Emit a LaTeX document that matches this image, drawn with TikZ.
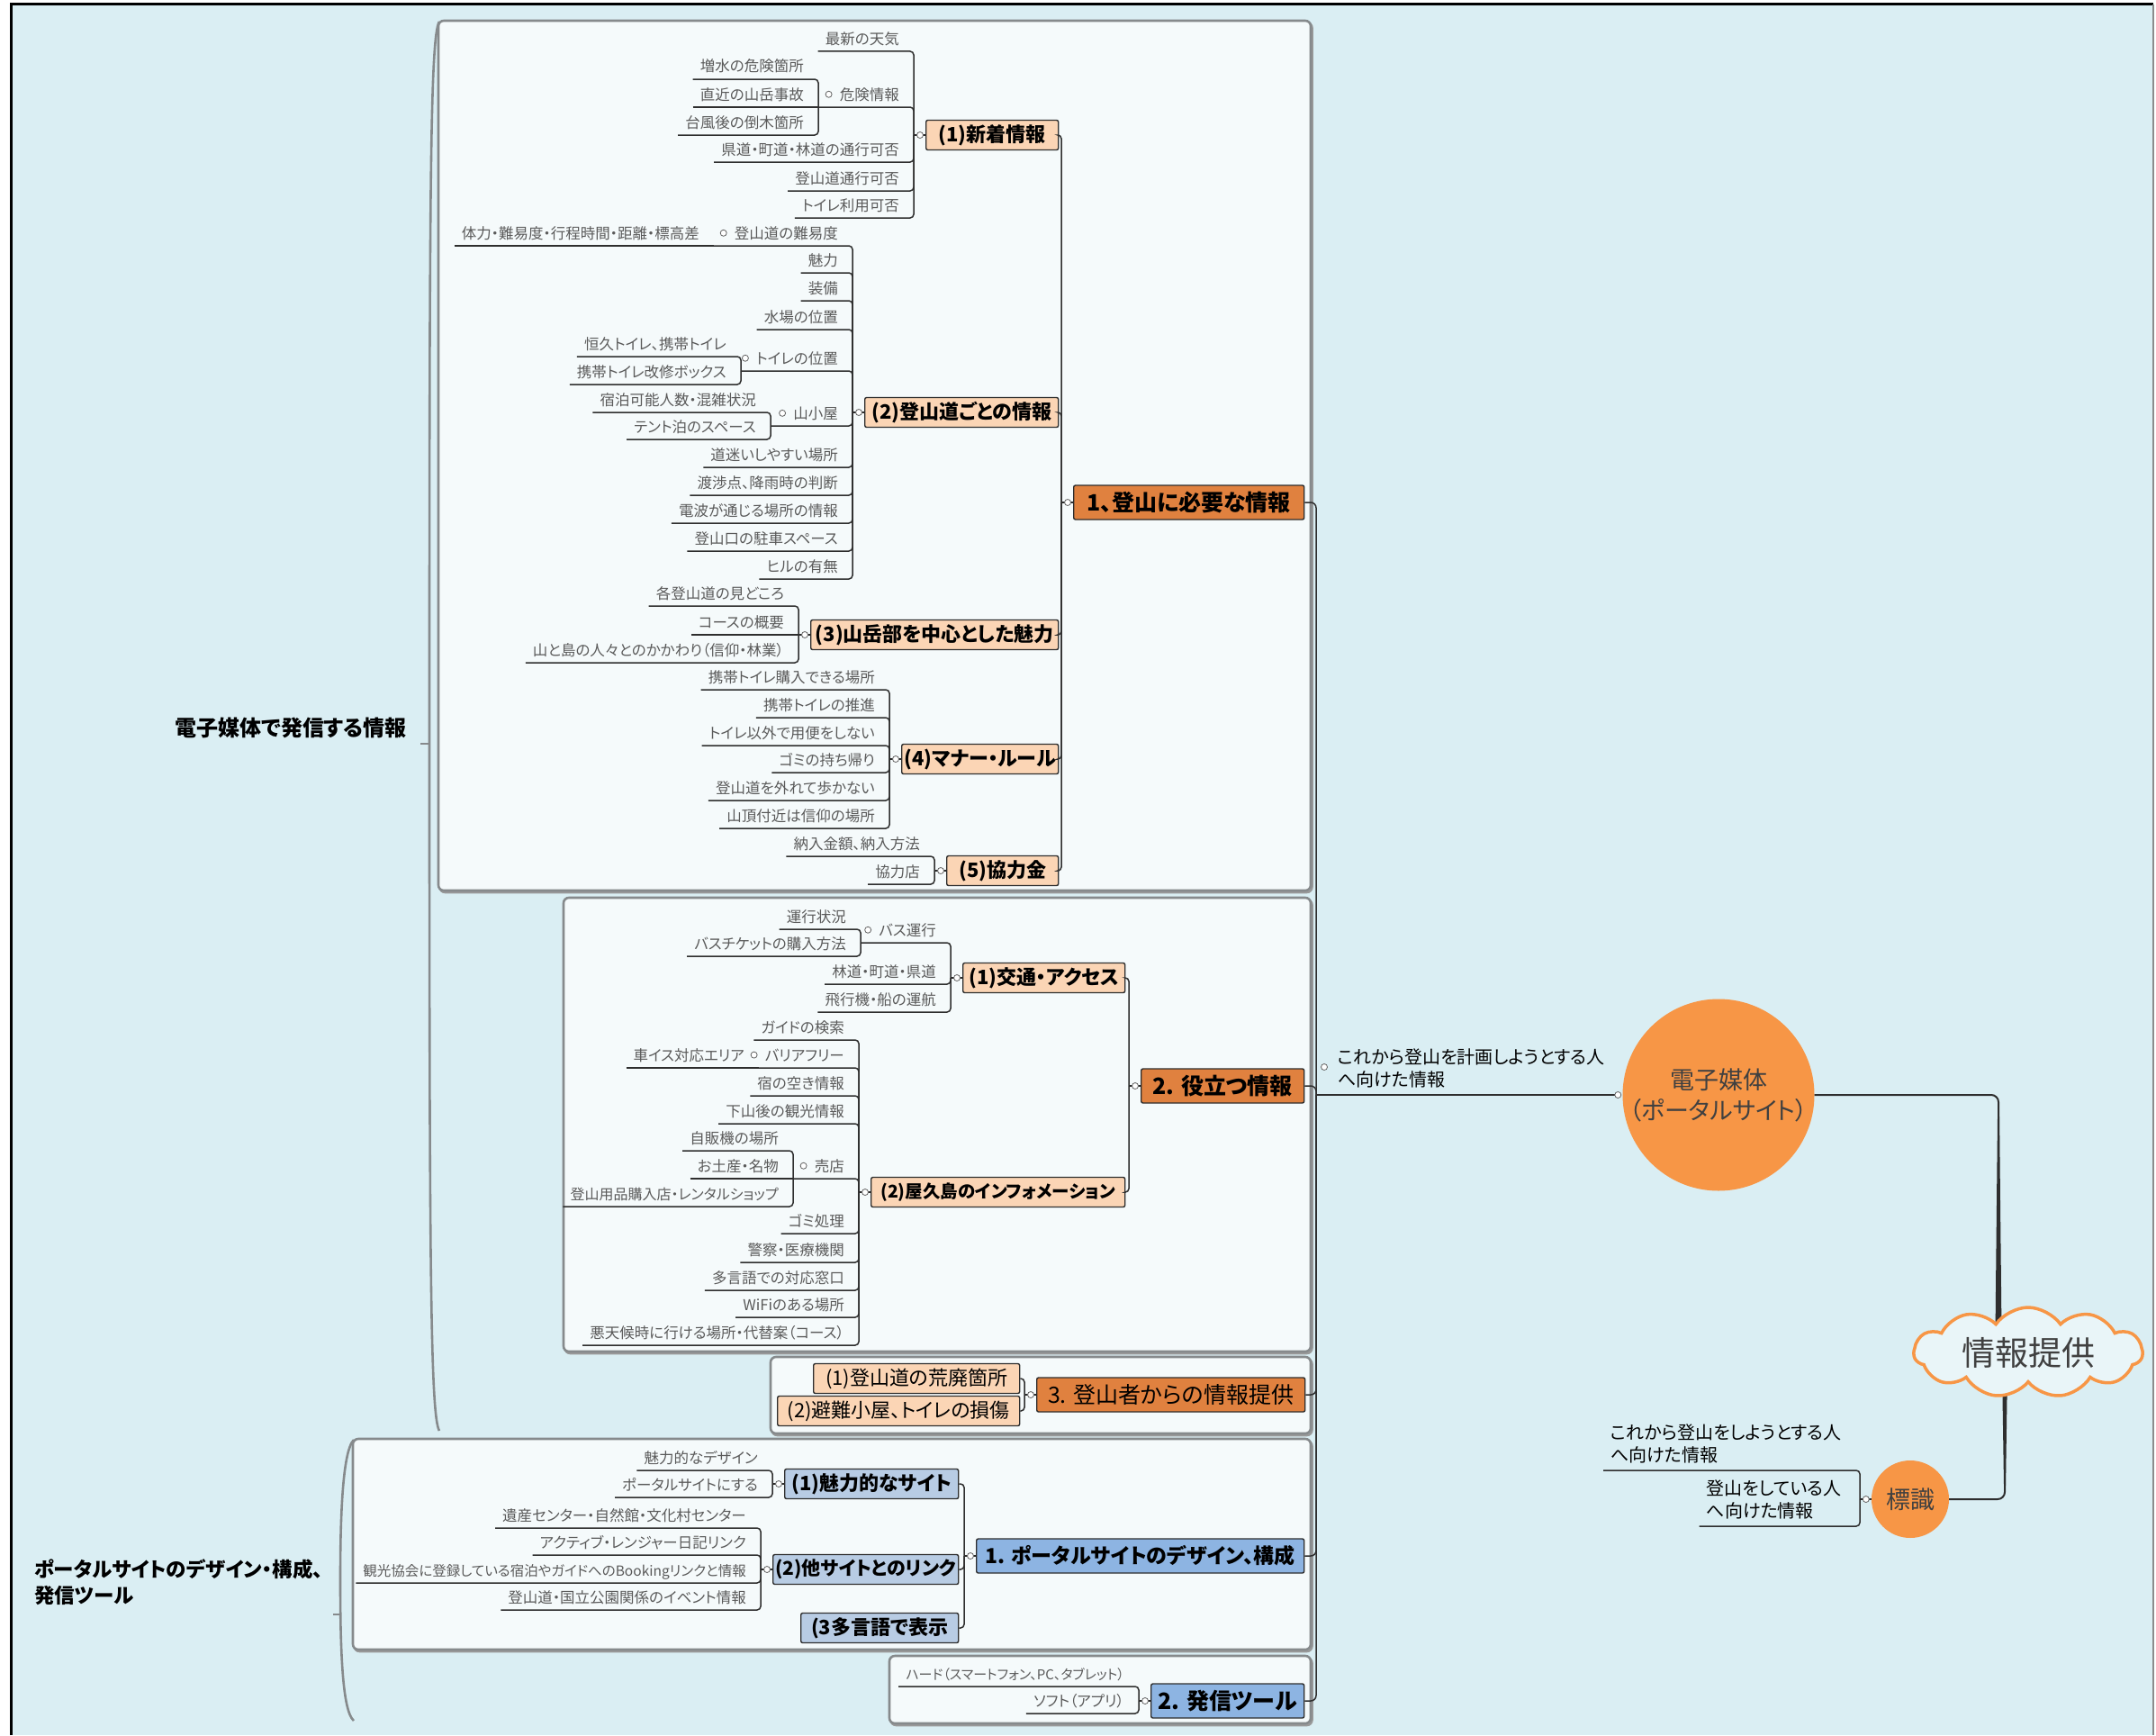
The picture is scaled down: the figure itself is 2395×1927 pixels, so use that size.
\documentclass[tikz,border=0pt]{standalone}
\usepackage{fontspec}
\setmainfont{Noto Sans CJK JP}[RawFeature=+palt]
\usetikzlibrary{shapes.symbols,shapes.geometric,calc}
\definecolor{bgblue}{HTML}{DAEEF3}
\definecolor{panelfill}{HTML}{F5FAFB}
\definecolor{panelline}{HTML}{868A8C}
\definecolor{lone}{HTML}{E0813F}
\definecolor{ltwo}{HTML}{FBD5B5}
\definecolor{bone}{HTML}{8DB4E2}
\definecolor{btwo}{HTML}{B8CCE4}
\definecolor{circ}{HTML}{F79646}
\definecolor{leafgray}{HTML}{5A5A5A}
\definecolor{lineclr}{HTML}{2E2E2E}
\definecolor{darktext}{HTML}{404040}
\tikzset{
 conn/.style={draw=lineclr, line width=1.5, rounded corners=4},
 leaf/.style={font=\fontsize{16.5}{19}\selectfont, text=leafgray, inner xsep=8, inner ysep=1},
 mk/.style={circle, draw=lineclr!75, fill=white, line width=0.8, inner sep=0, minimum size=7},
 boxtwo/.style={draw=lineclr, line width=1.4, rounded corners=2, fill=ltwo, font=\fontsize{22}{24}\selectfont\bfseries, minimum height=33, inner sep=0, anchor=west},
 boxone/.style={draw=lineclr, line width=1.4, rounded corners=2, fill=lone, font=\fontsize{25}{28}\selectfont\bfseries, minimum height=38, inner sep=0, anchor=west},
 panel/.style={draw=panelline, line width=2.6, fill=panelfill, rounded corners=6},
 pshadow/.style={draw=black!40, line width=2.6, rounded corners=6},
 lbl/.style={font=\fontsize{20}{25}\selectfont, text=black, align=left, inner xsep=8, inner ysep=2},
 sumlbl/.style={font=\fontsize{24}{29}\selectfont\bfseries, text=black, align=left, inner xsep=6},
 brace/.style={draw=panelline, line width=2.6},
 bigcirc/.style={circle, fill=circ, inner sep=0, text=darktext, align=center},
}
% leaf: name, bracket x, underline y, parent junction, text
\newcommand\Lf[5]{%
 \node[leaf, anchor=base east] (#1) at (#2-8,#3-8) {#5};
 \coordinate (#1u) at (#2,#3);
 \draw[conn] (#1.west |- #1u) -- (#1u) -- (#4);}
% leaf on the junction line
\newcommand\LfS[5]{%
 \node[leaf, anchor=base east] (#1) at (#2-8,#3-8) {#5};
 \draw[conn] (#1.west |- #4) -- (#4);}
% sub-parent: name, bracket x, underline y, parent junction, child bracket x, text
\newcommand\Sp[6]{%
 \node[leaf, anchor=base east] (#1) at (#2-8,#3-8) {#6};
 \coordinate (#1u) at (#2,#3);
 \coordinate (#1j) at (#5,#3);
 \draw[conn] (#1j) -- (#1u) -- (#4);
 \node[mk] at ([xshift=-4]#1.west) {};}
% box junction + marker
\newcommand\Bj[1]{%
 \coordinate (#1j) at ([xshift=-13]#1.west);
 \draw[conn] (#1j) -- (#1.west);
 \node[mk] at ([xshift=-6]#1.west) {};}
\newcommand\Pnl[4]{%
 \draw[pshadow] (#1+1.5,#2+2) rectangle (#3+1.5,#4+2);
 \draw[panel] (#1,#2) rectangle (#3,#4);}

\begin{document}
\begin{tikzpicture}[x=1pt,y=-1pt]
\useasboundingbox (0,0) rectangle (2395,1927);
\fill[white] (0,0) rectangle (2395,1927);
\fill[bgblue] (12,5) rectangle (2392,1927);
\draw[black, line width=3] (12,1927) -- (12,5) -- (2392,5);
\draw[black!45, line width=1.5] (2392,5) -- (2392,1927);

% panels
\Pnl{487}{23}{1456}{989}
\Pnl{626}{997}{1456}{1501}
\Pnl{856}{1507}{1456}{1592}
\Pnl{392}{1598}{1456}{1832}
\Pnl{988}{1839}{1456}{1914}

% summary braces and labels
\draw[brace] (488,24) .. controls (478,40) and (477,200) .. (477,806) .. controls (477,1400) and (478,1572) .. (488,1589);
\coordinate (t1) at (477,826);
\draw[brace, line width=1.5] (t1) -- ++(-10,0);
\node[sumlbl, anchor=east] (sum1) at (458,808) {電子媒体で発信する情報};
\draw[brace] (393,1599) .. controls (380,1612) and (378,1690) .. (378,1755) .. controls (378,1830) and (380,1900) .. (393,1911);
\coordinate (t2) at (378,1793);
\draw[brace, line width=1.5] (t2) -- ++(-8,0);
\node[sumlbl, anchor=west, font=\fontsize{22.5}{29}\selectfont\bfseries] (sum2) at (32,1757) {ポータルサイトのデザイン・構成、\\発信ツール};

% root structure
\node[bigcirc, minimum size=213, font=\fontsize{27}{34}\selectfont] (dm) at (1909,1216) {電子媒体\\（ポータルサイト）};
\node[bigcirc, minimum size=86, font=\fontsize{27}{30}\selectfont] (sk) at (2122,1665) {標識};
\coordinate (rj1) at (2220,1216);
\coordinate (rj2) at (2227,1665);
\coordinate (rc) at (2253,1502);
\draw[lineclr, line width=2, rounded corners=8] (dm.east) -- (rj1) -- (rj1 |- rc);
\fill[lineclr] (2219,1240) -- (2221,1240) -- (2223.5,1480) -- (2216.5,1480) -- cycle;
\draw[lineclr, line width=2, rounded corners=8] (rj2 |- rc) -- (rj2) -- (sk.east);
\fill[lineclr] (2224,1520) -- (2230,1520) -- (2228,1650) -- (2226,1650) -- cycle;
\node[cloud, cloud puffs=11, cloud puff arc=110, draw=circ, line width=3.5, fill=bgblue!60!white, minimum width=254, minimum height=100, cloud ignores aspect, inner sep=0, font=\fontsize{37}{40}\selectfont, text=darktext] (root) at (rc) {情報提供};

% label of the electronic medium
\coordinate (mj) at (1462,1216);
\node[lbl, anchor=south west] (lab) at (1478,1210) {これから登山を計画しようとする人\\へ向けた情報};
\draw[conn] (mj) -- ([xshift=-5]dm.west);
\node[mk] at ([xshift=-5]dm.west) {};
\node[mk] at (1471,1185) {};

% sign children
\coordinate (skj) at (2066,1665);
\draw[conn] (skj) -- (sk.west);
\node[mk] at ([xshift=-6]sk.west) {};
\node[lbl, anchor=south east] (s1) at (2054,1627) {これから登山をしようとする人\\へ向けた情報};
\coordinate (s1u) at (2066,1633);
\draw[conn] (s1.south west |- s1u) -- (s1u) -- (skj);
\node[lbl, anchor=south east] (s2) at (2054,1689) {登山をしている人\\へ向けた情報};
\coordinate (s2u) at (2066,1695);
\draw[conn] (s2.south west |- s2u) -- (s2u) -- (skj);

% ---------------- Panel A
\node[boxone, minimum width=256] (L1a) at (1192,558) {1、登山に必要な情報};
\node[boxtwo, minimum width=147] (B1) at (1028,150) {(1)新着情報};
\node[boxtwo, minimum width=215] (B2) at (960,458) {(2)登山道ごとの情報};
\node[boxtwo, minimum width=275] (B3) at (900,705) {(3)山岳部を中心とした魅力};
\node[boxtwo, minimum width=174] (B4) at (1001,843) {(4)マナー・ルール};
\node[boxtwo, minimum width=124] (B5) at (1051,967) {(5)協力金};
\Bj{L1a}
\foreach \b in {B1,B2,B3,B4,B5} {\draw[conn] (\b.east) -- (\b.east -| L1aj) -- (L1aj);}
\Bj{B1}\Bj{B2}\Bj{B3}\Bj{B4}\Bj{B5}

\Lf{a1}{1015}{57}{B1j}{最新の天気}
\Sp{a2}{1015}{119}{B1j}{909}{危険情報}
\Lf{a21}{909}{88}{a2j}{増水の危険箇所}
\LfS{a22}{909}{119}{a2j}{直近の山岳事故}
\Lf{a23}{909}{150}{a2j}{台風後の倒木箇所}
\Lf{a3}{1015}{180}{B1j}{県道・町道・林道の通行可否}
\Lf{a4}{1015}{212}{B1j}{登山道通行可否}
\Lf{a5}{1015}{242}{B1j}{トイレ利用可否}

\Sp{b1}{947}{273}{B2j}{793}{登山道の難易度}
\LfS{b1a}{793}{273}{b1j}{体力・難易度・行程時間・距離・標高差}
\Lf{b2}{947}{303}{B2j}{魅力}
\Lf{b3}{947}{334}{B2j}{装備}
\Lf{b4}{947}{366}{B2j}{水場の位置}
\Sp{b5}{947}{412}{B2j}{823}{トイレの位置}
\Lf{b5a}{823}{396}{b5j}{恒久トイレ、携帯トイレ}
\Lf{b5b}{823}{427}{b5j}{携帯トイレ改修ボックス}
\Sp{b6}{947}{473}{B2j}{856}{山小屋}
\Lf{b6a}{856}{458}{b6j}{宿泊可能人数・混雑状況}
\Lf{b6b}{856}{488}{b6j}{テント泊のスペース}
\Lf{b7}{947}{519}{B2j}{道迷いしやすい場所}
\Lf{b8}{947}{550}{B2j}{渡渉点、降雨時の判断}
\Lf{b9}{947}{581}{B2j}{電波が通じる場所の情報}
\Lf{b10}{947}{612}{B2j}{登山口の駐車スペース}
\Lf{b11}{947}{643}{B2j}{ヒルの有無}

\Lf{c1}{887}{673}{B3j}{各登山道の見どころ}
\LfS{c2}{887}{705}{B3j}{コースの概要}
\Lf{c3}{887}{736}{B3j}{山と島の人々とのかかわり（信仰・林業）}

\Lf{d1}{988}{766}{B4j}{携帯トイレ購入できる場所}
\Lf{d2}{988}{797}{B4j}{携帯トイレの推進}
\Lf{d3}{988}{828}{B4j}{トイレ以外で用便をしない}
\Lf{d4}{988}{858}{B4j}{ゴミの持ち帰り}
\Lf{d5}{988}{889}{B4j}{登山道を外れて歩かない}
\Lf{d6}{988}{920}{B4j}{山頂付近は信仰の場所}

\Lf{e1}{1038}{951}{B5j}{納入金額、納入方法}
\Lf{e2}{1038}{982}{B5j}{協力店}

% ---------------- Panel B
\node[boxone, minimum width=181] (L1b) at (1267,1206) {2. 役立つ情報};
\node[boxtwo, minimum width=180] (C1) at (1069,1086) {(1)交通・アクセス};
\node[boxtwo, minimum width=282, font=\fontsize{19.5}{22}\selectfont\bfseries] (C2) at (967,1324) {(2)屋久島のインフォメーション};
\Bj{L1b}
\foreach \b in {C1,C2} {\draw[conn] (\b.east) -- (\b.east -| L1bj) -- (L1bj);}
\Bj{C1}\Bj{C2}

\Sp{f1}{1056}{1047}{C1j}{956}{バス運行}
\Lf{f1a}{956}{1032}{f1j}{運行状況}
\Lf{f1b}{956}{1062}{f1j}{バスチケットの購入方法}
\Lf{f2}{1056}{1093}{C1j}{林道・町道・県道}
\Lf{f3}{1056}{1124}{C1j}{飛行機・船の運航}

\Lf{g1}{954}{1155}{C2j}{ガイドの検索}
\Sp{g2}{954}{1186}{C2j}{843}{バリアフリー}
\LfS{g2a}{843}{1186}{g2j}{車イス対応エリア}
\Lf{g3}{954}{1217}{C2j}{宿の空き情報}
\Lf{g4}{954}{1248}{C2j}{下山後の観光情報}
\Sp{g5}{954}{1309}{C2j}{881}{売店}
\Lf{g5a}{881}{1278}{g5j}{自販機の場所}
\LfS{g5b}{881}{1309}{g5j}{お土産・名物}
\Lf{g5c}{881}{1340}{g5j}{\fontsize{16}{19}\selectfont 登山用品購入店・レンタルショップ}
\Lf{g6}{954}{1370}{C2j}{ゴミ処理}
\Lf{g7}{954}{1402}{C2j}{警察・医療機関}
\Lf{g8}{954}{1433}{C2j}{多言語での対応窓口}
\Lf{g9}{954}{1463}{C2j}{WiFiのある場所}
\Lf{g10}{954}{1494}{C2j}{悪天候時に行ける場所・代替案（コース）}

% ---------------- Panel C
\node[boxone, font=\fontsize{25}{28}\selectfont, minimum width=298] (L1c) at (1151,1549) {3. 登山者からの情報提供};
\node[boxtwo, font=\fontsize{22}{24}\selectfont, minimum width=229] (H1) at (903,1531) {(1)登山道の荒廃箇所};
\node[boxtwo, font=\fontsize{22}{24}\selectfont, minimum width=269] (H2) at (863,1567) {(2)避難小屋、トイレの損傷};
\Bj{L1c}
\foreach \b in {H1,H2} {\draw[conn] (\b.east) -- (\b.east -| L1cj) -- (L1cj);}

% ---------------- Panel D
\node[boxone, fill=bone, minimum width=364, font=\fontsize{23}{26}\selectfont\bfseries] (L1d) at (1084,1728) {1. ポータルサイトのデザイン、構成};
\node[boxtwo, fill=btwo, minimum width=193] (D1) at (871,1648) {(1)魅力的なサイト};
\node[boxtwo, fill=btwo, minimum width=206, font=\fontsize{21}{24}\selectfont\bfseries] (D2) at (858,1743) {(2)他サイトとのリンク};
\node[boxtwo, fill=btwo, minimum width=175] (D3) at (889,1808) {(3多言語で表示};
\Bj{L1d}
\foreach \b in {D1,D2,D3} {\draw[conn] (\b.east) -- (\b.east -| L1dj) -- (L1dj);}
\Bj{D1}\Bj{D2}
\Lf{h1}{858}{1633}{D1j}{魅力的なデザイン}
\Lf{h2}{858}{1663}{D1j}{ポータルサイトにする}
\Lf{i1}{845}{1697}{D2j}{遺産センター・自然館・文化村センター}
\Lf{i2}{845}{1727}{D2j}{アクティブ・レンジャー日記リンク}
\Lf{i3}{845}{1758}{D2j}{\fontsize{15.5}{19}\selectfont 観光協会に登録している宿泊やガイドへのBookingリンクと情報}
\Lf{i4}{845}{1788}{D2j}{登山道・国立公園関係のイベント情報}

% ---------------- Panel E
\node[boxone, fill=bone, minimum width=170] (L1e) at (1278,1889) {2. 発信ツール};
\Bj{L1e}
\Lf{j1}{1265}{1873}{L1ej}{\fontsize{15}{19}\selectfont ハード（スマートフォン、PC、タブレット）}
\Lf{j2}{1265}{1903}{L1ej}{ソフト（アプリ）}

% main bracket
\foreach \b in {L1a,L1b,L1c,L1d,L1e} {\draw[conn, rounded corners=6] (\b.east) -- (\b.east -| mj) -- (mj);}
\end{tikzpicture}
\end{document}
